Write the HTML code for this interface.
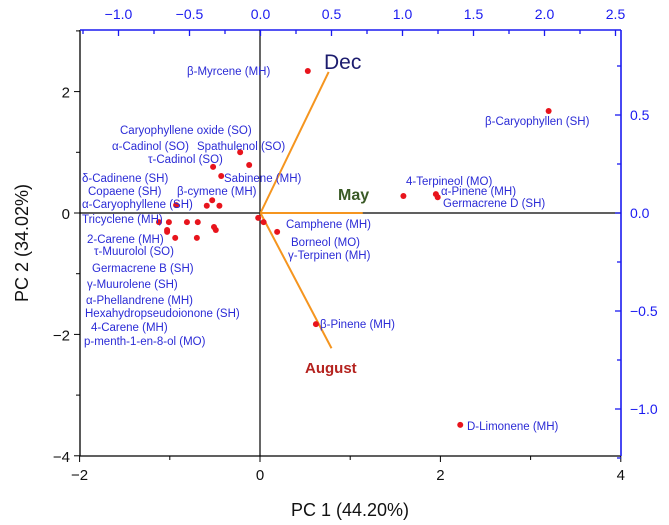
<!DOCTYPE html>
<html><head><meta charset="utf-8"><style>
body{margin:0;background:#fff}
svg{display:block;font-family:"Liberation Sans",Arial,sans-serif}
</style></head><body>
<svg id="chart" width="669" height="525" viewBox="0 0 669 525" xmlns="http://www.w3.org/2000/svg">
<g id="axes"></g><g id="marks"></g><g id="labels"></g>
</svg>
<script>
const pointNames=["β-Myrcene","β-Caryophyllen","4-Terpineol","α-Pinene","Germacrene D","D-Limonene","β-Pinene","Spathulenol","Sabinene","τ-Cadinol","cluster-a","β-cymene","cluster-b","cluster-c","α-Caryophyllene","Tricyclene","cluster-d","2-Carene","cluster-e","cluster-f","cluster-g","cluster-h","cluster-i","τ-Muurolol","cluster-j","cluster-k","Camphene","Borneol"];
const pcX=[0.53,3.20,1.59,1.95,1.97,2.22,0.62,-0.22,-0.12,-0.52,-0.43,-0.53,-0.59,-0.45,-0.93,-1.12,-1.01,-1.03,-1.03,-0.81,-0.69,-0.51,-0.49,-0.94,-0.70,-0.02,0.04,0.19];
const pcY=[2.34,1.68,0.28,0.31,0.26,-3.49,-1.83,1.00,0.79,0.76,0.61,0.21,0.12,0.12,0.13,-0.15,-0.15,-0.28,-0.31,-0.15,-0.15,-0.23,-0.28,-0.41,-0.41,-0.08,-0.15,-0.31];
const loadNames=["Dec","May","August"];
const loadX=[0.48,0.72,0.50];
const loadY=[0.72,0.0,-0.69];
const bottomTicks=[-2,0,2,4];
const leftTicks=[-4,-2,0,2];
const topTicks=["−1.0","−0.5","0.0","0.5","1.0","1.5","2.0","2.5"];
const topTickVals=[-1,-0.5,0,0.5,1,1.5,2,2.5];
const rightTicks=["0.5","0.0","−0.5","−1.0"];
const rightTickVals=[0.5,0,-0.5,-1];

const L=80,R=621,T=30,B=456;
const xS=v=>260+v*90.2, yS=v=>213-v*60.7;
const xT=v=>260.5+v*142, yR=v=>213-v*196;
const NS="http://www.w3.org/2000/svg";
function mk(p,tag,at,txt){const e=document.createElementNS(NS,tag);for(const k in at)e.setAttribute(k,at[k]);if(txt!==undefined)e.textContent=txt;p.appendChild(e);return e;}
const ax=document.getElementById('axes'),mg=document.getElementById('marks'),lg=document.getElementById('labels');

// frame
let e;
e=mk(ax,'line',{x1:L,y1:T,x2:L,y2:B,stroke:'#000','stroke-width':1.3});

e=mk(ax,'line',{x1:L,y1:B,x2:R,y2:B,stroke:'#000','stroke-width':1.3});

e=mk(ax,'line',{x1:L,y1:T,x2:R,y2:T,stroke:'#1a1af0','stroke-width':1.6});

e=mk(ax,'line',{x1:R,y1:T,x2:R,y2:B,stroke:'#1a1af0','stroke-width':1.6});

e=mk(ax,'line',{x1:L,y1:yS(0),x2:R,y2:yS(0),stroke:'#000','stroke-width':1.2});

e=mk(ax,'line',{x1:xS(0),y1:T,x2:xS(0),y2:B,stroke:'#000','stroke-width':1.2});


for(let v=-2;v<=4;v++){mk(ax,'line',{x1:xS(v),y1:B,x2:xS(v),y2:B+(v%2===0?6:4),stroke:'#000'});}
bottomTicks.forEach(v=>{e=mk(ax,'text',{x:xS(v),y:B+24,'text-anchor':'middle','font-size':15,fill:'#111'},v<0?'−'+(-v):String(v));
});
for(let v=-4;v<=3;v++){if(yS(v)<T)continue;mk(ax,'line',{x1:L-(v%2===0?6:4),y1:yS(v),x2:L,y2:yS(v),stroke:'#000'});}
leftTicks.forEach(v=>{e=mk(ax,'text',{x:L-10,y:yS(v)+6,'text-anchor':'end','font-size':15,fill:'#111'},v<0?'−'+(-v):String(v));
});
for(let v=-1.25;v<=2.51;v+=0.25){const maj=Math.abs(v*2-Math.round(v*2))<1e-6;mk(ax,'line',{x1:xT(v),y1:T,x2:xT(v),y2:T+(maj?6:4),stroke:'#1a1af0','stroke-width':1.3});}
topTicks.forEach((t,i)=>{e=mk(ax,'text',{x:xT(topTickVals[i]),y:T-11,'text-anchor':'middle','font-size':14,fill:'#1a1af0'},t);
});
for(let v=-1.25;v<=0.9;v+=0.25){const maj=Math.abs(v*2-Math.round(v*2))<1e-6;mk(ax,'line',{x1:R-(maj?6:4),y1:yR(v),x2:R,y2:yR(v),stroke:'#1a1af0','stroke-width':1.3});}
rightTicks.forEach((t,i)=>{e=mk(ax,'text',{x:R+9,y:yR(rightTickVals[i])+5,'font-size':14,fill:'#1a1af0'},t);
});

e=mk(ax,'text',{x:350,y:516,'text-anchor':'middle','font-size':18,fill:'#111'},'PC 1 (44.20%)');

e=mk(ax,'text',{x:0,y:0,'text-anchor':'middle','font-size':18,fill:'#111',transform:'translate(28,243) rotate(-90)'},'PC 2 (34.02%)');


// loading vectors
loadNames.forEach((n,i)=>{e=mk(mg,'line',{x1:xT(0),y1:yR(0),x2:xT(loadX[i]),y2:yR(loadY[i]),stroke:'#f5951f','stroke-width':2});
});
// points
pcX.forEach((x,i)=>{e=mk(mg,'circle',{cx:xS(x),cy:yS(pcY[i]),r:3,fill:'#e8141c'});
});

const labs=[["β-Myrcene (MH)",187,75],["Caryophyllene oxide (SO)",120,134],["α-Cadinol (SO)",112,150],["Spathulenol (SO)",197,150],["τ-Cadinol (SO)",148,163],["δ-Cadinene (SH)",82,182],["Sabinene (MH)",224,182],["Copaene (SH)",88,195],["β-cymene (MH)",177,195],["α-Caryophyllene (SH)",82,208],["Tricyclene (MH)",82,223],["2-Carene (MH)",87,243],["τ-Muurolol (SO)",94,255],["Germacrene B (SH)",92,272],["γ-Muurolene (SH)",87,288],["α-Phellandrene (MH)",86,304],["Hexahydropseudoionone (SH)",85,317],["4-Carene (MH)",91,331],["p-menth-1-en-8-ol (MO)",84,345],["Camphene (MH)",286,228],["Borneol (MO)",291,246],["γ-Terpinen (MH)",288,259],["β-Pinene (MH)",320,328],["β-Caryophyllen (SH)",485,125],["4-Terpineol (MO)",406,185],["α-Pinene (MH)",441,195],["Germacrene D (SH)",443,207],["D-Limonene (MH)",467,430]];
labs.forEach(l=>{e=mk(lg,'text',{x:l[1],y:l[2],'font-size':11.5,fill:'#2b2bd6'},l[0]);
});
e=mk(lg,'text',{x:324,y:69,'font-size':21,fill:'#1c1c6e'},'Dec');

e=mk(lg,'text',{x:338,y:200,'font-size':16,'font-weight':'bold',fill:'#3a5a26'},'May');

e=mk(lg,'text',{x:305,y:373,'font-size':15,'font-weight':'bold',fill:'#b5231f'},'August');

</script>
</body></html>
